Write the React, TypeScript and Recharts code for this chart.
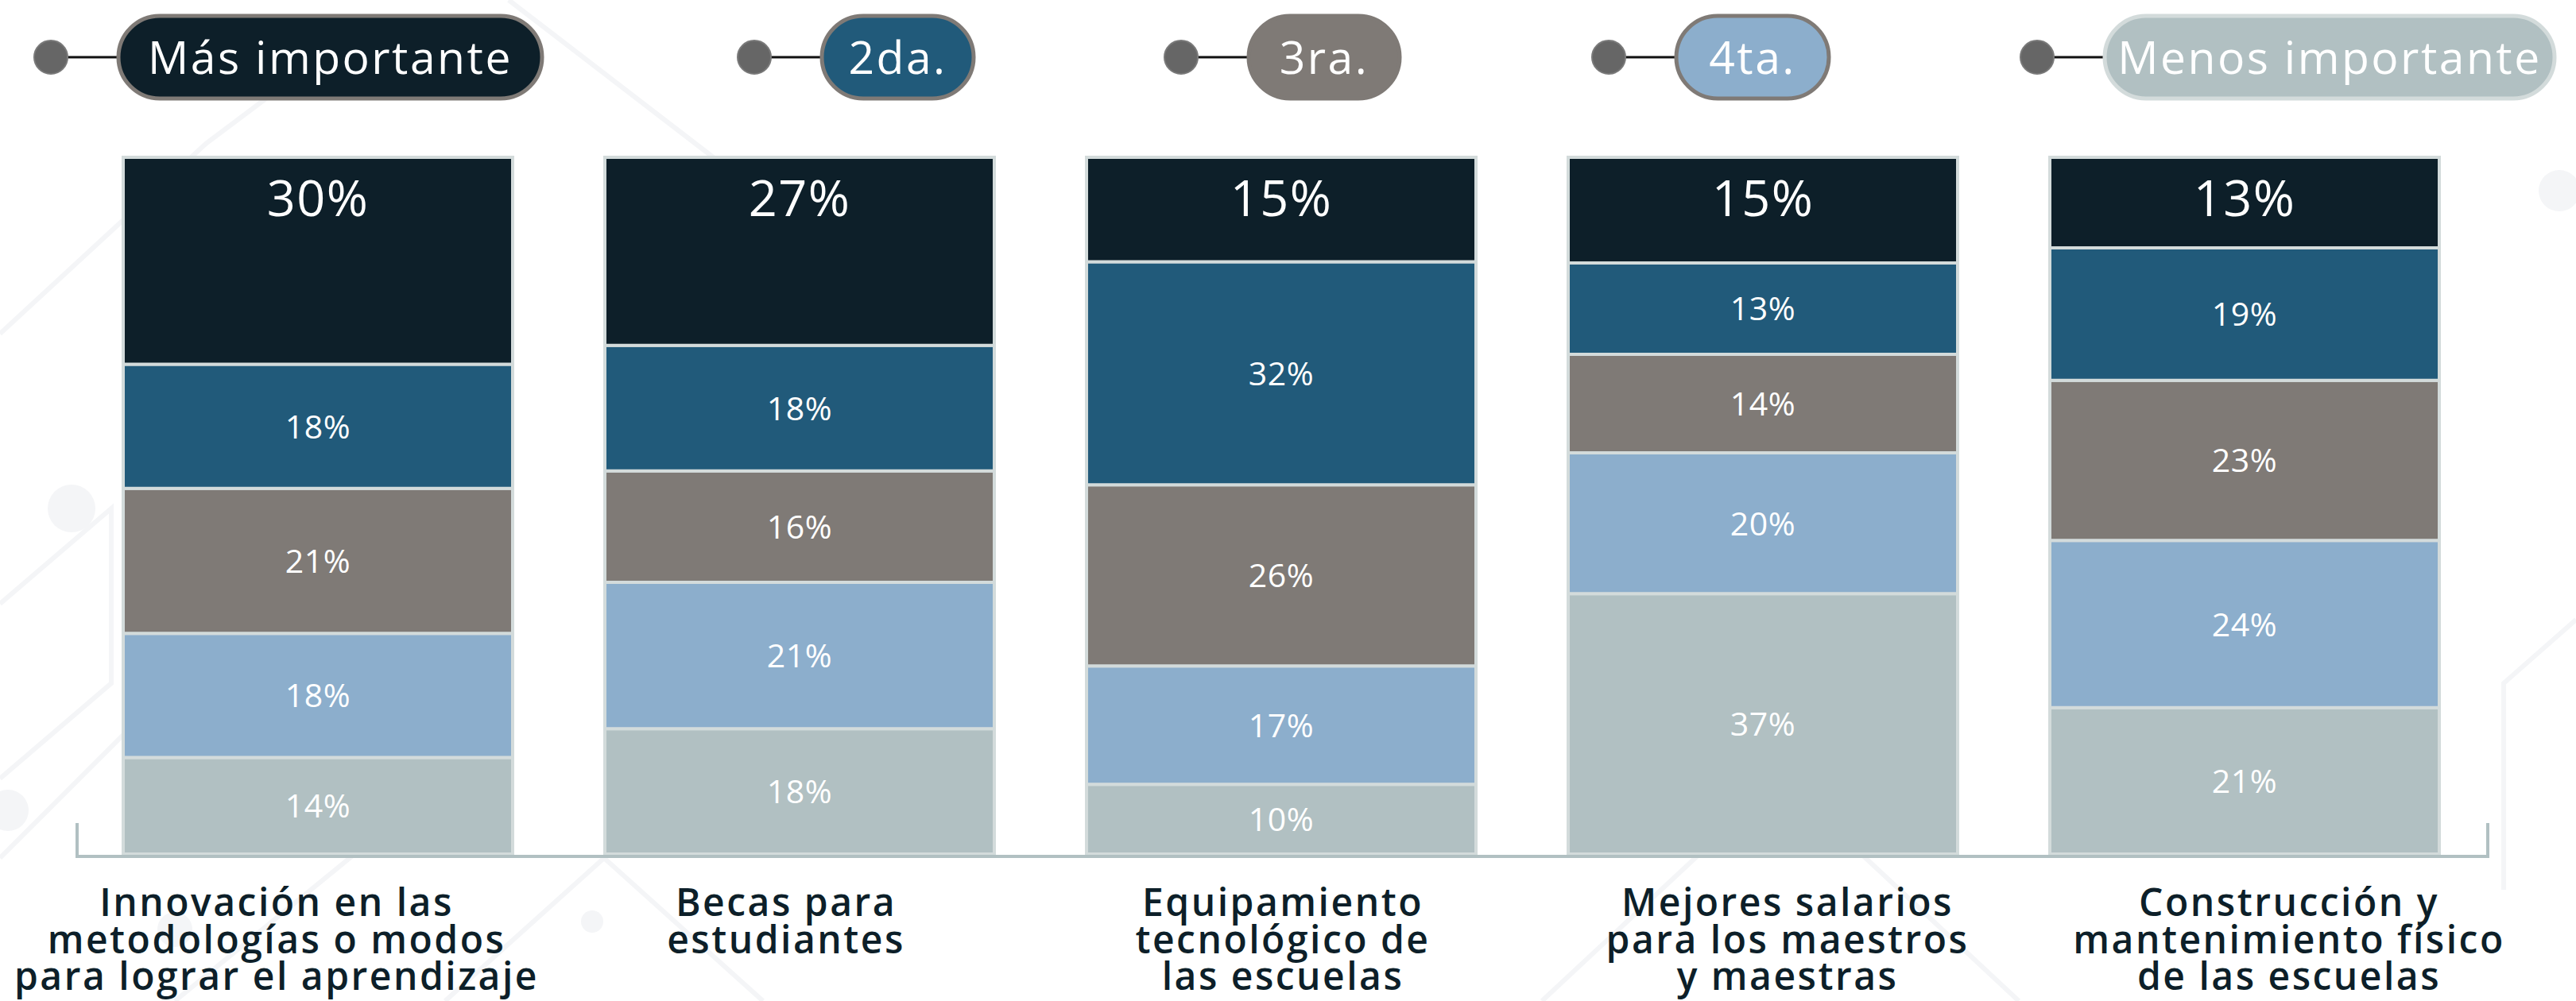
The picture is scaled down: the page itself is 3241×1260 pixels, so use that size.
import React from "react";
import { BarChart, Bar, XAxis, YAxis, LabelList } from "recharts";

// categories, one entry per line of the axis label
const CATEGORY_LINES = [
  ["Innovación en las", "metodologías o modos", "para lograr el aprendizaje"],
  ["Becas para", "estudiantes"],
  ["Equipamiento", "tecnológico de", "las escuelas"],
  ["Mejores salarios", "para los maestros", "y maestras"],
  ["Construcción y", "mantenimiento físico", "de las escuelas"],
];

const MAS_IMPORTANTE = [30, 27, 15, 15, 13];
const SEGUNDA = [18, 18, 32, 13, 19];
const TERCERA = [21, 16, 26, 14, 23];
const CUARTA = [18, 21, 17, 20, 24];
const MENOS_IMPORTANTE = [14, 18, 10, 37, 21];

const SERIES_NAMES = ["Más importante", "2da.", "3ra.", "4ta.", "Menos importante"];
const SERIES_KEYS = ["r1", "r2", "r3", "r4", "r5"];
const SERIES_COLORS = ["#0d1f29", "#215a7a", "#7f7a76", "#8caecc", "#b1c0c2"];

const FONT = "'Open Sans', sans-serif";
const W = 3241;
const H = 1260;
const MARGIN = { top: 198, right: 114, bottom: 15, left: 97 };
const X_AXIS_H = 170;
const PLOT_BOTTOM = H - MARGIN.bottom - X_AXIS_H;
// the category captions are not exactly centred under the bars
const TICK_DX = [-52, -17, 2, 31, 56];

const data = CATEGORY_LINES.map((lines, i) => ({
  name: lines.join(" "),
  r1: MAS_IMPORTANTE[i],
  r2: SEGUNDA[i],
  r3: TERCERA[i],
  r4: CUARTA[i],
  r5: MENOS_IMPORTANTE[i],
}));

// legend layout (circle centre x, pill width)
const LEGEND_X = [64, 949, 1486, 2024, 2563];
const PILL_W = [533, 191, 190, 192, 566];
const PILL_BORDER = ["#7f7a76", "#7f7a76", "#7f7a76", "#7f7a76", "#d3dbdb"];

function Backdrop() {
  // faint network pattern behind the chart
  const c = "#f4f5f7";
  return (
    <svg width={W} height={H} style={{ position: "absolute", left: 0, top: 0 }}>
      <g stroke={c} strokeWidth={6} fill="none">
        <path d="M0 420 L130 300 L260 180 L420 60" />
        <path d="M0 760 L140 640 L140 860 L0 980" />
        <path d="M0 1080 L220 860 L440 1080 L220 1260" />
        <path d="M560 1260 L760 1080 L960 1260" />
        <path d="M1940 1260 L2240 980 L2540 1260" />
        <path d="M3241 780 L3150 860 L3150 1120" />
        <path d="M640 0 L900 200" />
      </g>
      <g fill={c}>
        <circle cx={90} cy={640} r={30} />
        <circle cx={10} cy={1020} r={26} />
        <circle cx={220} cy={1170} r={22} />
        <circle cx={745} cy={1160} r={14} />
        <circle cx={2230} cy={990} r={24} />
        <circle cx={3220} cy={240} r={26} />
      </g>
    </svg>
  );
}

function Legendish() {
  const cy = 72;
  return (
    <svg width={W} height={150} style={{ position: "absolute", left: 0, top: 0 }}>
      {SERIES_NAMES.map((name, i) => {
        const cx = LEGEND_X[i];
        const px = cx + 85;
        return (
          <g key={name}>
            <line x1={cx} y1={cy} x2={px} y2={cy} stroke="#111" strokeWidth={3} />
            <circle cx={cx} cy={cy} r={21} fill="#666666" stroke="#7a7a7a" strokeWidth={2} />
            <rect
              x={px}
              y={20}
              width={PILL_W[i]}
              height={104}
              rx={52}
              fill={SERIES_COLORS[i]}
              stroke={PILL_BORDER[i]}
              strokeWidth={5}
            />
            <text
              x={px + PILL_W[i] / 2}
              y={cy + 21}
              textAnchor="middle"
              fill="#fff"
              fontSize={57}
              letterSpacing={2.5}
              fontFamily={FONT}
            >
              {name}
            </text>
          </g>
        );
      })}
    </svg>
  );
}

function CategoryTick(props: any) {
  const { x, y, payload } = props;
  const lines = CATEGORY_LINES[payload.index] || [];
  const tx = x + (TICK_DX[payload.index] || 0);
  return (
    <text
      x={tx}
      y={y + 78}
      textAnchor="middle"
      fill="#0d1f29"
      fontSize={48}
      fontWeight={600}
      letterSpacing={2.5}
      fontFamily={FONT}
    >
      {lines.map((l, i) => (
        <tspan key={i} x={tx} dy={i === 0 ? 0 : 46.5}>
          {l}
        </tspan>
      ))}
    </text>
  );
}

function makeLabel(isTop: boolean) {
  return (props: any) => {
    const { x, y, width, height, value } = props;
    const cx = x + width / 2;
    if (isTop) {
      return (
        <text
          x={cx}
          y={y + 74}
          textAnchor="middle"
          fill="#fff"
          fontSize={63}
          letterSpacing={1.5}
          fontFamily={FONT}
        >
          {value}%
        </text>
      );
    }
    return (
      <text
        x={cx}
        y={y + height / 2 + 15}
        textAnchor="middle"
        fill="#fff"
        fontSize={41}
        fontWeight={500}
        letterSpacing={0.5}
        fontFamily={FONT}
      >
        {value}%
      </text>
    );
  };
}

function Bracket() {
  const left = MARGIN.left;
  const right = W - MARGIN.right + 3;
  const yb = PLOT_BOTTOM + 3;
  return (
    <svg width={W} height={H} style={{ position: "absolute", left: 0, top: 0, pointerEvents: "none" }}>
      <path
        d={`M${left} ${yb - 42} L${left} ${yb} L${right} ${yb} L${right} ${yb - 42}`}
        fill="none"
        stroke="#b1c0c2"
        strokeWidth={4}
      />
    </svg>
  );
}

export default function App() {
  const order = [4, 3, 2, 1, 0];
  return (
    <div style={{ position: "relative", width: W, height: H, background: "#fff" }}>
      <style>{`body{margin:0;}`}</style>
      <Backdrop />
      <div style={{ position: "absolute", left: 0, top: 0 }}>
        <BarChart
          width={W}
          height={H}
          data={data}
          margin={MARGIN}
          stackOffset="expand"
          barSize={490}
        >
          <XAxis
            dataKey="name"
            height={X_AXIS_H}
            axisLine={false}
            tickLine={false}
            tickSize={0}
            tickMargin={0}
            interval={0}
            tick={<CategoryTick />}
          />
          <YAxis hide domain={[0, 1]} />
          {order.map((i) => (
            <Bar
              key={SERIES_KEYS[i]}
              dataKey={SERIES_KEYS[i]}
              name={SERIES_NAMES[i]}
              stackId="a"
              fill={SERIES_COLORS[i]}
              stroke="#d3dbdb"
              strokeWidth={4}
              isAnimationActive={false}
            >
              <LabelList dataKey={SERIES_KEYS[i]} content={makeLabel(i === 0)} />
            </Bar>
          ))}
        </BarChart>
      </div>
      <Legendish />
      <Bracket />
    </div>
  );
}
